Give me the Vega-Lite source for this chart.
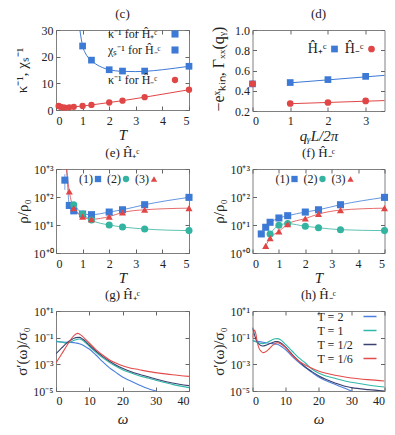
{
"$schema": "https://vega.github.io/schema/vega-lite/v6.json",
"background": "white",
"padding": {"left": 13, "top": 7, "right": 4, "bottom": 2},
"config": {
  "font": "Liberation Serif",
  "view": {"stroke": "#808080", "strokeWidth": 1},
  "axis": {"domain": false, "grid": false, "ticks": true, "tickSize": -4, "tickColor": "#666", "labelPadding": 8, "labelFont": "Liberation Serif", "labelFontSize": 12, "labelColor": "#222", "titleFont": "Liberation Serif", "titleFontSize": 15, "titleFontWeight": "normal", "titleColor": "#222", "titlePadding": 3},
  "axisX": {"labelPadding": 9, "titlePadding": 1},
  "axisY": {"labelPadding": 7},
  "title": {"font": "Liberation Serif", "fontSize": 13, "fontWeight": "normal", "color": "#222", "offset": 3},
  "legend": {"labelFont": "Liberation Serif", "labelFontSize": 12, "labelColor": "#222", "padding": 0, "offset": 0, "symbolStrokeWidth": 0}
},
"datasets": {
  "c_pts": [
    {"T": 1, "v": 24.0, "s": "κ⁻¹ for Ĥ₊ᶜ"}, {"T": 1.333, "v": 18.7, "s": "κ⁻¹ for Ĥ₊ᶜ"}, {"T": 2, "v": 15.1, "s": "κ⁻¹ for Ĥ₊ᶜ"}, {"T": 2.5, "v": 14.6, "s": "κ⁻¹ for Ĥ₊ᶜ"}, {"T": 3.333, "v": 14.6, "s": "κ⁻¹ for Ĥ₊ᶜ"}, {"T": 5, "v": 16.4, "s": "κ⁻¹ for Ĥ₊ᶜ"},
    {"T": 0.1, "v": 1.5, "s": "κ⁻¹ for Ĥ₋ᶜ"}, {"T": 0.167, "v": 1.2, "s": "κ⁻¹ for Ĥ₋ᶜ"}, {"T": 0.25, "v": 1.0, "s": "κ⁻¹ for Ĥ₋ᶜ"}, {"T": 0.333, "v": 0.9, "s": "κ⁻¹ for Ĥ₋ᶜ"}, {"T": 0.5, "v": 1.0, "s": "κ⁻¹ for Ĥ₋ᶜ"}, {"T": 0.667, "v": 1.2, "s": "κ⁻¹ for Ĥ₋ᶜ"}, {"T": 1, "v": 1.5, "s": "κ⁻¹ for Ĥ₋ᶜ"}, {"T": 1.333, "v": 1.9, "s": "κ⁻¹ for Ĥ₋ᶜ"}, {"T": 2, "v": 2.8, "s": "κ⁻¹ for Ĥ₋ᶜ"}, {"T": 2.5, "v": 3.5, "s": "κ⁻¹ for Ĥ₋ᶜ"}, {"T": 3.333, "v": 4.8, "s": "κ⁻¹ for Ĥ₋ᶜ"}, {"T": 5, "v": 7.6, "s": "κ⁻¹ for Ĥ₋ᶜ"}
  ],
  "c_line": [
    {"T": 0.89, "v": 30.5}, {"T": 0.95, "v": 26.6}, {"T": 1, "v": 24.0}, {"T": 1.1, "v": 21.4}, {"T": 1.2, "v": 19.8}, {"T": 1.333, "v": 18.6}, {"T": 1.5, "v": 17.2}, {"T": 1.75, "v": 15.9}, {"T": 2, "v": 15.1}, {"T": 2.5, "v": 14.5}, {"T": 3, "v": 14.4}, {"T": 3.333, "v": 14.5}, {"T": 4, "v": 15.1}, {"T": 5, "v": 16.4}
  ],
  "d_pts": [
    {"q": 0, "v": 0.468, "s": "Ĥ₊ᶜ"}, {"q": 1, "v": 0.481, "s": "Ĥ₊ᶜ"}, {"q": 2, "v": 0.51, "s": "Ĥ₊ᶜ"}, {"q": 3, "v": 0.542, "s": "Ĥ₊ᶜ"},
    {"q": 0, "v": 0.468, "s": "Ĥ₋ᶜ"}, {"q": 1, "v": 0.274, "s": "Ĥ₋ᶜ"}, {"q": 2, "v": 0.284, "s": "Ĥ₋ᶜ"}, {"q": 3, "v": 0.30, "s": "Ĥ₋ᶜ"}
  ],
  "d_line": [
    {"q": 1, "v": 0.478, "s": "b"}, {"q": 3.5, "v": 0.552, "s": "b"}, {"q": 1, "v": 0.272, "s": "r"}, {"q": 3.5, "v": 0.303, "s": "r"}
  ],
  "e_pts": [
    {"T": 0.333, "v": 400, "lo": 180, "hi": 650, "s": "(1)"}, {"T": 0.5, "v": 50, "s": "(1)"}, {"T": 0.667, "v": 32, "s": "(1)"}, {"T": 1, "v": 24.6, "s": "(1)"}, {"T": 1.333, "v": 23.4, "s": "(1)"}, {"T": 2, "v": 29, "s": "(1)"}, {"T": 2.5, "v": 35, "s": "(1)"}, {"T": 3.333, "v": 53, "s": "(1)"}, {"T": 5, "v": 97, "s": "(1)"},
    {"T": 0.667, "v": 53, "s": "(2)"}, {"T": 1, "v": 24.6, "s": "(2)"}, {"T": 1.333, "v": 15, "s": "(2)"}, {"T": 2, "v": 10, "s": "(2)"}, {"T": 2.5, "v": 8.5, "s": "(2)"}, {"T": 3.333, "v": 7.2, "s": "(2)"}, {"T": 5, "v": 6.3, "s": "(2)"},
    {"T": 0.5, "v": 158, "s": "(3)"}, {"T": 0.667, "v": 40, "s": "(3)"}, {"T": 1, "v": 20, "s": "(3)"}, {"T": 1.333, "v": 16, "s": "(3)"}, {"T": 2, "v": 20, "s": "(3)"}, {"T": 2.5, "v": 28, "s": "(3)"}, {"T": 3.333, "v": 35, "s": "(3)"}, {"T": 5, "v": 40, "s": "(3)"}
  ],
  "e_line": [
    {"T": 0.41, "v": 1000, "s": "(1)"}, {"T": 0.5, "v": 50, "s": "(1)"}, {"T": 0.667, "v": 32, "s": "(1)"}, {"T": 1, "v": 24.6, "s": "(1)"}, {"T": 1.333, "v": 23.4, "s": "(1)"}, {"T": 2, "v": 29, "s": "(1)"}, {"T": 2.5, "v": 35, "s": "(1)"}, {"T": 3.333, "v": 53, "s": "(1)"}, {"T": 5, "v": 97, "s": "(1)"},
    {"T": 0.667, "v": 53, "s": "(2)"}, {"T": 1, "v": 24.6, "s": "(2)"}, {"T": 1.333, "v": 15, "s": "(2)"}, {"T": 2, "v": 10, "s": "(2)"}, {"T": 2.5, "v": 8.5, "s": "(2)"}, {"T": 3.333, "v": 7.2, "s": "(2)"}, {"T": 5, "v": 6.3, "s": "(2)"},
    {"T": 0.39, "v": 1000, "s": "(3)"}, {"T": 0.5, "v": 158, "s": "(3)"}, {"T": 0.667, "v": 40, "s": "(3)"}, {"T": 1, "v": 20, "s": "(3)"}, {"T": 1.333, "v": 16, "s": "(3)"}, {"T": 2, "v": 20, "s": "(3)"}, {"T": 2.5, "v": 28, "s": "(3)"}, {"T": 3.333, "v": 35, "s": "(3)"}, {"T": 5, "v": 40, "s": "(3)"}
  ],
  "f_pts": [
    {"T": 0.333, "v": 4.8, "s": "(1)"}, {"T": 0.5, "v": 8.3, "s": "(1)"}, {"T": 0.667, "v": 12.5, "s": "(1)"}, {"T": 1, "v": 17.8, "s": "(1)"}, {"T": 1.333, "v": 21.5, "s": "(1)"}, {"T": 2, "v": 29, "s": "(1)"}, {"T": 2.5, "v": 35, "s": "(1)"}, {"T": 3.333, "v": 53, "s": "(1)"}, {"T": 5, "v": 97, "s": "(1)"},
    {"T": 0.667, "v": 4.8, "s": "(2)"}, {"T": 1, "v": 9.8, "s": "(2)"}, {"T": 1.333, "v": 11.2, "s": "(2)"}, {"T": 2, "v": 9, "s": "(2)"}, {"T": 2.5, "v": 8, "s": "(2)"}, {"T": 3.333, "v": 6.8, "s": "(2)"}, {"T": 5, "v": 6.3, "s": "(2)"},
    {"T": 0.5, "v": 1.8, "s": "(3)"}, {"T": 0.667, "v": 3.4, "s": "(3)"}, {"T": 1, "v": 5.9, "s": "(3)"}, {"T": 1.333, "v": 10.8, "s": "(3)"}, {"T": 2, "v": 17, "s": "(3)"}, {"T": 2.5, "v": 24.6, "s": "(3)"}, {"T": 3.333, "v": 34, "s": "(3)"}, {"T": 5, "v": 40, "s": "(3)"}
  ],
  "g": [
    {"w": 0, "v": 0.0501, "s": "T = 2"}, {"w": 2, "v": 0.0479, "s": "T = 2"}, {"w": 4, "v": 0.0447, "s": "T = 2"}, {"w": 6, "v": 0.0398, "s": "T = 2"}, {"w": 7, "v": 0.0355, "s": "T = 2"}, {"w": 8, "v": 0.0282, "s": "T = 2"}, {"w": 9, "v": 0.01995, "s": "T = 2"}, {"w": 10, "v": 0.01413, "s": "T = 2"}, {"w": 12, "v": 0.00501, "s": "T = 2"}, {"w": 14, "v": 0.001585, "s": "T = 2"}, {"w": 16, "v": 0.000562, "s": "T = 2"}, {"w": 18, "v": 0.000251, "s": "T = 2"}, {"w": 20, "v": 0.000112, "s": "T = 2"}, {"w": 22, "v": 0.0000631, "s": "T = 2"}, {"w": 25, "v": 0.0000282, "s": "T = 2"}, {"w": 28, "v": 0.0000141, "s": "T = 2"}, {"w": 30, "v": 0.00001, "s": "T = 2"}, {"w": 32, "v": 0.00000631, "s": "T = 2"},
    {"w": 0, "v": 0.0562, "s": "T = 1"}, {"w": 1, "v": 0.0501, "s": "T = 1"}, {"w": 2, "v": 0.0447, "s": "T = 1"}, {"w": 3, "v": 0.0398, "s": "T = 1"}, {"w": 4, "v": 0.0447, "s": "T = 1"}, {"w": 5, "v": 0.0562, "s": "T = 1"}, {"w": 6, "v": 0.0708, "s": "T = 1"}, {"w": 7, "v": 0.0794, "s": "T = 1"}, {"w": 8, "v": 0.0631, "s": "T = 1"}, {"w": 9, "v": 0.0398, "s": "T = 1"}, {"w": 10, "v": 0.0224, "s": "T = 1"}, {"w": 12, "v": 0.00794, "s": "T = 1"}, {"w": 14, "v": 0.00316, "s": "T = 1"}, {"w": 16, "v": 0.00141, "s": "T = 1"}, {"w": 18, "v": 0.000708, "s": "T = 1"}, {"w": 20, "v": 0.000398, "s": "T = 1"}, {"w": 22, "v": 0.000251, "s": "T = 1"}, {"w": 25, "v": 0.000141, "s": "T = 1"}, {"w": 28, "v": 0.0000891, "s": "T = 1"}, {"w": 30, "v": 0.0000631, "s": "T = 1"}, {"w": 35, "v": 0.0000316, "s": "T = 1"}, {"w": 40, "v": 0.0000178, "s": "T = 1"},
    {"w": 0, "v": 0.00631, "s": "T = 1/2"}, {"w": 1, "v": 0.0112, "s": "T = 1/2"}, {"w": 2, "v": 0.01995, "s": "T = 1/2"}, {"w": 3, "v": 0.0355, "s": "T = 1/2"}, {"w": 4, "v": 0.0562, "s": "T = 1/2"}, {"w": 5, "v": 0.0794, "s": "T = 1/2"}, {"w": 6, "v": 0.1, "s": "T = 1/2"}, {"w": 7, "v": 0.105, "s": "T = 1/2"}, {"w": 8, "v": 0.0794, "s": "T = 1/2"}, {"w": 9, "v": 0.0501, "s": "T = 1/2"}, {"w": 10, "v": 0.0282, "s": "T = 1/2"}, {"w": 12, "v": 0.01, "s": "T = 1/2"}, {"w": 14, "v": 0.00398, "s": "T = 1/2"}, {"w": 16, "v": 0.00178, "s": "T = 1/2"}, {"w": 18, "v": 0.000891, "s": "T = 1/2"}, {"w": 20, "v": 0.000501, "s": "T = 1/2"}, {"w": 22, "v": 0.000316, "s": "T = 1/2"}, {"w": 25, "v": 0.000178, "s": "T = 1/2"}, {"w": 28, "v": 0.000112, "s": "T = 1/2"}, {"w": 30, "v": 0.0000794, "s": "T = 1/2"}, {"w": 35, "v": 0.0000398, "s": "T = 1/2"}, {"w": 40, "v": 0.0000251, "s": "T = 1/2"},
    {"w": 0, "v": 0.00126, "s": "T = 1/6"}, {"w": 0.5, "v": 0.002, "s": "T = 1/6"}, {"w": 1, "v": 0.00316, "s": "T = 1/6"}, {"w": 2, "v": 0.00794, "s": "T = 1/6"}, {"w": 3, "v": 0.01995, "s": "T = 1/6"}, {"w": 4, "v": 0.0501, "s": "T = 1/6"}, {"w": 5, "v": 0.112, "s": "T = 1/6"}, {"w": 6, "v": 0.191, "s": "T = 1/6"}, {"w": 6.5, "v": 0.209, "s": "T = 1/6"}, {"w": 7, "v": 0.191, "s": "T = 1/6"}, {"w": 8, "v": 0.126, "s": "T = 1/6"}, {"w": 9, "v": 0.0708, "s": "T = 1/6"}, {"w": 10, "v": 0.0398, "s": "T = 1/6"}, {"w": 12, "v": 0.0126, "s": "T = 1/6"}, {"w": 14, "v": 0.00501, "s": "T = 1/6"}, {"w": 16, "v": 0.00224, "s": "T = 1/6"}, {"w": 18, "v": 0.00126, "s": "T = 1/6"}, {"w": 20, "v": 0.000794, "s": "T = 1/6"}, {"w": 22, "v": 0.000562, "s": "T = 1/6"}, {"w": 25, "v": 0.000398, "s": "T = 1/6"}, {"w": 28, "v": 0.000282, "s": "T = 1/6"}, {"w": 30, "v": 0.00024, "s": "T = 1/6"}, {"w": 35, "v": 0.000166, "s": "T = 1/6"}, {"w": 40, "v": 0.000126, "s": "T = 1/6"}
  ],
  "h": [
    {"w": 0, "v": 0.0562, "s": "T = 2"}, {"w": 2, "v": 0.0501, "s": "T = 2"}, {"w": 4, "v": 0.0417, "s": "T = 2"}, {"w": 6, "v": 0.0355, "s": "T = 2"}, {"w": 7.5, "v": 0.0316, "s": "T = 2"}, {"w": 9, "v": 0.01995, "s": "T = 2"}, {"w": 10, "v": 0.0126, "s": "T = 2"}, {"w": 12, "v": 0.00398, "s": "T = 2"}, {"w": 14, "v": 0.00141, "s": "T = 2"}, {"w": 16, "v": 0.000562, "s": "T = 2"}, {"w": 18, "v": 0.000251, "s": "T = 2"}, {"w": 20, "v": 0.000112, "s": "T = 2"}, {"w": 22, "v": 0.0000631, "s": "T = 2"}, {"w": 25, "v": 0.0000316, "s": "T = 2"}, {"w": 28, "v": 0.0000158, "s": "T = 2"}, {"w": 30, "v": 0.00001, "s": "T = 2"}, {"w": 32, "v": 0.00000631, "s": "T = 2"},
    {"w": 0, "v": 0.0631, "s": "T = 1"}, {"w": 1, "v": 0.0501, "s": "T = 1"}, {"w": 2, "v": 0.0398, "s": "T = 1"}, {"w": 3, "v": 0.0355, "s": "T = 1"}, {"w": 4, "v": 0.0398, "s": "T = 1"}, {"w": 5, "v": 0.0525, "s": "T = 1"}, {"w": 6, "v": 0.0708, "s": "T = 1"}, {"w": 7, "v": 0.0832, "s": "T = 1"}, {"w": 7.5, "v": 0.0851, "s": "T = 1"}, {"w": 8.5, "v": 0.0708, "s": "T = 1"}, {"w": 10, "v": 0.0316, "s": "T = 1"}, {"w": 12, "v": 0.01, "s": "T = 1"}, {"w": 14, "v": 0.00316, "s": "T = 1"}, {"w": 16, "v": 0.00126, "s": "T = 1"}, {"w": 18, "v": 0.000447, "s": "T = 1"}, {"w": 20, "v": 0.000224, "s": "T = 1"}, {"w": 22, "v": 0.000141, "s": "T = 1"}, {"w": 25, "v": 0.0000891, "s": "T = 1"}, {"w": 28, "v": 0.0000562, "s": "T = 1"}, {"w": 30, "v": 0.0000447, "s": "T = 1"}, {"w": 35, "v": 0.0000282, "s": "T = 1"}, {"w": 40, "v": 0.00002, "s": "T = 1"},
    {"w": 0, "v": 0.562, "s": "T = 1/2"}, {"w": 0.5, "v": 0.2, "s": "T = 1/2"}, {"w": 1, "v": 0.0794, "s": "T = 1/2"}, {"w": 1.5, "v": 0.0447, "s": "T = 1/2"}, {"w": 2, "v": 0.0316, "s": "T = 1/2"}, {"w": 3, "v": 0.024, "s": "T = 1/2"}, {"w": 4, "v": 0.0263, "s": "T = 1/2"}, {"w": 5, "v": 0.0331, "s": "T = 1/2"}, {"w": 6, "v": 0.0417, "s": "T = 1/2"}, {"w": 7, "v": 0.0501, "s": "T = 1/2"}, {"w": 7.5, "v": 0.0501, "s": "T = 1/2"}, {"w": 8.5, "v": 0.0417, "s": "T = 1/2"}, {"w": 10, "v": 0.01995, "s": "T = 1/2"}, {"w": 12, "v": 0.00562, "s": "T = 1/2"}, {"w": 14, "v": 0.00178, "s": "T = 1/2"}, {"w": 16, "v": 0.000631, "s": "T = 1/2"}, {"w": 18, "v": 0.000282, "s": "T = 1/2"}, {"w": 20, "v": 0.000141, "s": "T = 1/2"}, {"w": 22, "v": 0.0000794, "s": "T = 1/2"}, {"w": 25, "v": 0.0000398, "s": "T = 1/2"}, {"w": 28, "v": 0.0000224, "s": "T = 1/2"}, {"w": 30, "v": 0.0000178, "s": "T = 1/2"}, {"w": 35, "v": 0.0000126, "s": "T = 1/2"}, {"w": 40, "v": 0.00001, "s": "T = 1/2"},
    {"w": 0, "v": 0.1, "s": "T = 1/6"}, {"w": 0.3, "v": 0.251, "s": "T = 1/6"}, {"w": 0.6, "v": 0.372, "s": "T = 1/6"}, {"w": 1, "v": 0.2, "s": "T = 1/6"}, {"w": 1.5, "v": 0.0398, "s": "T = 1/6"}, {"w": 2, "v": 0.0158, "s": "T = 1/6"}, {"w": 2.5, "v": 0.01, "s": "T = 1/6"}, {"w": 3.2, "v": 0.00759, "s": "T = 1/6"}, {"w": 4, "v": 0.00891, "s": "T = 1/6"}, {"w": 5, "v": 0.0141, "s": "T = 1/6"}, {"w": 6, "v": 0.0251, "s": "T = 1/6"}, {"w": 7, "v": 0.038, "s": "T = 1/6"}, {"w": 7.5, "v": 0.0417, "s": "T = 1/6"}, {"w": 8.5, "v": 0.0355, "s": "T = 1/6"}, {"w": 10, "v": 0.0178, "s": "T = 1/6"}, {"w": 12, "v": 0.00501, "s": "T = 1/6"}, {"w": 14, "v": 0.00178, "s": "T = 1/6"}, {"w": 16, "v": 0.000891, "s": "T = 1/6"}, {"w": 18, "v": 0.000501, "s": "T = 1/6"}, {"w": 20, "v": 0.000316, "s": "T = 1/6"}, {"w": 22, "v": 0.000224, "s": "T = 1/6"}, {"w": 25, "v": 0.000151, "s": "T = 1/6"}, {"w": 28, "v": 0.000112, "s": "T = 1/6"}, {"w": 30, "v": 0.0000955, "s": "T = 1/6"}, {"w": 35, "v": 0.0000708, "s": "T = 1/6"}, {"w": 40, "v": 0.0000562, "s": "T = 1/6"}
  ]
},
"columns": 2,
"bounds": "flush",
"spacing": {"row": 58, "column": 63.5},
"resolve": {"scale": {"x": "independent", "y": "independent", "color": "independent", "shape": "independent", "fill": "independent"}, "legend": {"color": "independent", "shape": "independent", "fill": "independent"}},
"concat": [
  {
    "width": 133, "height": 80, "title": "(c)",
    "resolve": {"axis": {"x": "independent", "y": "independent"}},
    "layer": [
      {"data": {"name": "c_line"}, "mark": {"type": "line", "color": "#3d7ad6", "strokeWidth": 1, "clip": true, "interpolate": "monotone"},
       "encoding": {"x": {"field": "T", "type": "quantitative", "scale": {"domain": [0, 5], "nice": false}, "axis": {"values": [0, 1, 2, 3, 4, 5], "title": "T", "titleFontStyle": "italic"}},
                    "y": {"field": "v", "type": "quantitative", "scale": {"domain": [0, 30], "nice": false}, "axis": {"values": [0, 10, 20, 30], "title": "κ⁻¹, χₛ⁻¹", "titlePadding": 12}}}},
      {"data": {"name": "c_pts"}, "transform": [{"filter": "datum.s == 'κ⁻¹ for Ĥ₋ᶜ'"}], "mark": {"type": "line", "color": "#e04646", "strokeWidth": 1},
       "encoding": {"x": {"field": "T", "type": "quantitative", "axis": null}, "y": {"field": "v", "type": "quantitative", "axis": null}}},
      {"data": {"name": "c_pts"}, "transform": [{"filter": "datum.s != 'κ⁻¹ for Ĥ₋ᶜ'"}], "mark": {"type": "point", "filled": true, "opacity": 1, "size": 45, "shape": "square"},
       "encoding": {"x": {"field": "T", "type": "quantitative", "axis": {"orient": "top", "labels": false, "title": null, "values": [0, 1, 2, 3, 4, 5]}},
                    "y": {"field": "v", "type": "quantitative", "axis": {"orient": "right", "labels": false, "title": null, "values": [0, 10, 20, 30]}},
                    "color": {"field": "s", "type": "nominal", "scale": {"domain": ["κ⁻¹ for Ĥ₊ᶜ", "χₛ⁻¹ for Ĥ₋ᶜ"], "range": ["#3d7ad6", "#3d7ad6"]},
                              "legend": {"title": null, "orient": "none", "legendX": 113, "legendY": -2, "direction": "vertical", "labelOffset": -73, "labelAlign": "left", "symbolType": "square", "symbolSize": 50, "rowPadding": 4}}}},
      {"data": {"name": "c_pts"}, "transform": [{"filter": "datum.s == 'κ⁻¹ for Ĥ₋ᶜ'"}], "mark": {"type": "point", "filled": true, "opacity": 1, "size": 40, "shape": "circle"},
       "encoding": {"x": {"field": "T", "type": "quantitative", "axis": null},
                    "y": {"field": "v", "type": "quantitative", "axis": null},
                    "fill": {"field": "s", "type": "nominal", "scale": {"domain": ["κ⁻¹ for Ĥ₋ᶜ"], "range": ["#e04646"]},
                              "legend": {"title": null, "orient": "none", "legendX": 113, "legendY": 44, "direction": "vertical", "labelOffset": -73, "labelAlign": "left", "symbolType": "circle", "symbolSize": 40}}}}
    ]
  },
  {
    "width": 132, "height": 81, "title": "(d)",
    "resolve": {"axis": {"x": "independent", "y": "independent"}},
    "layer": [
      {"data": {"name": "d_line"}, "transform": [{"filter": "datum.s == 'b'"}], "mark": {"type": "line", "color": "#3d7ad6", "strokeWidth": 1},
       "encoding": {"x": {"field": "q", "type": "quantitative", "scale": {"domain": [0, 3.5], "nice": false}, "axis": {"values": [0, 1, 2, 3], "title": "qᵧL/2π", "titleFontStyle": "italic", "labelPadding": 8, "titlePadding": 2}},
                    "y": {"field": "v", "type": "quantitative", "scale": {"domain": [0.2, 1.0], "nice": false, "zero": false}, "axis": {"values": [0.2, 0.4, 0.6, 0.8, 1.0], "format": ".1f", "title": "−eˣₖᵢₙ, Γₓₓ(qᵧ)", "titlePadding": 8, "titleAnchor": "start", "titleFontSize": 16}}}},
      {"data": {"name": "d_line"}, "transform": [{"filter": "datum.s == 'r'"}], "mark": {"type": "line", "color": "#e04646", "strokeWidth": 1},
       "encoding": {"x": {"field": "q", "type": "quantitative", "axis": null}, "y": {"field": "v", "type": "quantitative", "axis": null}}},
      {"data": {"name": "d_pts"}, "mark": {"type": "point", "filled": true, "opacity": 1, "size": 45},
       "encoding": {"x": {"field": "q", "type": "quantitative", "axis": {"orient": "top", "labels": false, "title": null, "values": [0, 1, 2, 3]}},
                    "y": {"field": "v", "type": "quantitative", "axis": {"orient": "right", "labels": false, "title": null, "values": [0.2, 0.4, 0.6, 0.8, 1.0]}},
                    "color": {"field": "s", "type": "nominal", "scale": {"domain": ["Ĥ₊ᶜ", "Ĥ₋ᶜ"], "range": ["#3d7ad6", "#e04646"]},
                              "legend": {"title": null, "orient": "none", "legendX": 75, "legendY": 12, "direction": "horizontal", "columns": 2, "labelOffset": -15, "labelAlign": "right", "labelFontSize": 14, "symbolSize": 45, "columnPadding": 6}},
                    "shape": {"field": "s", "type": "nominal", "scale": {"domain": ["Ĥ₊ᶜ", "Ĥ₋ᶜ"], "range": ["square", "circle"]},
                              "legend": {"title": null, "orient": "none", "legendX": 75, "legendY": 12, "direction": "horizontal", "columns": 2, "labelOffset": -15, "labelAlign": "right", "labelFontSize": 14, "symbolSize": 45, "columnPadding": 6}}}}
    ]
  },
  {
    "width": 133, "height": 84, "title": "(e) Ĥ₊ᶜ",
    "resolve": {"axis": {"x": "independent", "y": "independent"}},
    "layer": [
      {"data": {"name": "e_line"}, "transform": [{"filter": "datum.s == '(1)'"}], "mark": {"type": "line", "color": "#3d7ad6", "strokeWidth": 0.8, "clip": true, "interpolate": "monotone"},
       "encoding": {"x": {"field": "T", "type": "quantitative", "scale": {"domain": [0, 5], "nice": false}, "axis": {"values": [0, 1, 2, 3, 4, 5], "title": "T", "titleFontStyle": "italic"}},
                    "y": {"field": "v", "type": "quantitative", "scale": {"type": "log", "domain": [1, 1000], "nice": false}, "axis": {"values": [1, 10, 100, 1000], "title": "ρ/ρ₀", "labelExpr": "'10' + (round(log(datum.value)/LN10) < 0 ? '⁻' : '⁺') + ['⁰','¹','²','³','⁴','⁵'][abs(round(log(datum.value)/LN10))]"}}}},
      {"data": {"name": "e_line"}, "transform": [{"filter": "datum.s == '(2)'"}], "mark": {"type": "line", "color": "#33b3a0", "strokeWidth": 0.8, "clip": true, "interpolate": "monotone"},
       "encoding": {"x": {"field": "T", "type": "quantitative", "axis": null}, "y": {"field": "v", "type": "quantitative", "axis": null}}},
      {"data": {"name": "e_line"}, "transform": [{"filter": "datum.s == '(3)'"}], "mark": {"type": "line", "color": "#e04646", "strokeWidth": 0.8, "clip": true, "interpolate": "monotone"},
       "encoding": {"x": {"field": "T", "type": "quantitative", "axis": null}, "y": {"field": "v", "type": "quantitative", "axis": null}}},
      {"data": {"name": "e_pts"}, "transform": [{"filter": "isValid(datum.lo)"}], "mark": {"type": "rule", "color": "#7ea4e6", "strokeWidth": 1},
       "encoding": {"x": {"field": "T", "type": "quantitative", "axis": null}, "y": {"field": "lo", "type": "quantitative", "axis": null}, "y2": {"field": "hi"}}},
      {"data": {"name": "e_pts"}, "mark": {"type": "point", "filled": true, "opacity": 1, "size": 50},
       "encoding": {"x": {"field": "T", "type": "quantitative", "axis": {"orient": "top", "labels": false, "title": null, "values": [0, 1, 2, 3, 4, 5]}},
                    "y": {"field": "v", "type": "quantitative", "axis": {"orient": "right", "labels": false, "title": null, "values": [1, 10, 100, 1000]}},
                    "color": {"field": "s", "type": "nominal", "scale": {"domain": ["(1)", "(2)", "(3)"], "range": ["#3d7ad6", "#33b3a0", "#e04646"]},
                              "legend": {"title": null, "orient": "none", "legendX": 36, "legendY": 4, "direction": "horizontal", "columns": 3, "labelOffset": -11, "labelAlign": "right", "symbolSize": 40, "columnPadding": 5}},
                    "shape": {"field": "s", "type": "nominal", "scale": {"domain": ["(1)", "(2)", "(3)"], "range": ["square", "circle", "triangle-up"]},
                              "legend": {"title": null, "orient": "none", "legendX": 36, "legendY": 4, "direction": "horizontal", "columns": 3, "labelOffset": -11, "labelAlign": "right", "symbolSize": 40, "columnPadding": 5}}}}
    ]
  },
  {
    "width": 132, "height": 84, "title": "(f) Ĥ₋ᶜ",
    "resolve": {"axis": {"x": "independent", "y": "independent"}},
    "layer": [
      {"data": {"name": "f_pts"}, "transform": [{"filter": "datum.s == '(1)' && datum.T > 0.6"}], "mark": {"type": "line", "color": "#3d7ad6", "strokeWidth": 0.8, "clip": true, "interpolate": "monotone"},
       "encoding": {"x": {"field": "T", "type": "quantitative", "scale": {"domain": [0, 5], "nice": false}, "axis": {"values": [0, 1, 2, 3, 4, 5], "title": "T", "titleFontStyle": "italic"}},
                    "y": {"field": "v", "type": "quantitative", "scale": {"type": "log", "domain": [1, 1000], "nice": false}, "axis": {"values": [1, 10, 100, 1000], "title": "ρ/ρ₀", "labelExpr": "'10' + (round(log(datum.value)/LN10) < 0 ? '⁻' : '⁺') + ['⁰','¹','²','³','⁴','⁵'][abs(round(log(datum.value)/LN10))]"}}}},
      {"data": {"name": "f_pts"}, "transform": [{"filter": "datum.s == '(2)'"}], "mark": {"type": "line", "color": "#33b3a0", "strokeWidth": 0.8, "clip": true, "interpolate": "monotone"},
       "encoding": {"x": {"field": "T", "type": "quantitative", "axis": null}, "y": {"field": "v", "type": "quantitative", "axis": null}}},
      {"data": {"name": "f_pts"}, "transform": [{"filter": "datum.s == '(3)'"}], "mark": {"type": "line", "color": "#e04646", "strokeWidth": 0.8, "clip": true, "interpolate": "monotone"},
       "encoding": {"x": {"field": "T", "type": "quantitative", "axis": null}, "y": {"field": "v", "type": "quantitative", "axis": null}}},
      {"data": {"name": "f_pts"}, "mark": {"type": "point", "filled": true, "opacity": 1, "size": 50},
       "encoding": {"x": {"field": "T", "type": "quantitative", "axis": {"orient": "top", "labels": false, "title": null, "values": [0, 1, 2, 3, 4, 5]}},
                    "y": {"field": "v", "type": "quantitative", "axis": {"orient": "right", "labels": false, "title": null, "values": [1, 10, 100, 1000]}},
                    "color": {"field": "s", "type": "nominal", "scale": {"domain": ["(1)", "(2)", "(3)"], "range": ["#3d7ad6", "#33b3a0", "#e04646"]},
                              "legend": {"title": null, "orient": "none", "legendX": 36, "legendY": 4, "direction": "horizontal", "columns": 3, "labelOffset": -11, "labelAlign": "right", "symbolSize": 40, "columnPadding": 5}},
                    "shape": {"field": "s", "type": "nominal", "scale": {"domain": ["(1)", "(2)", "(3)"], "range": ["square", "circle", "triangle-up"]},
                              "legend": {"title": null, "orient": "none", "legendX": 36, "legendY": 4, "direction": "horizontal", "columns": 3, "labelOffset": -11, "labelAlign": "right", "symbolSize": 40, "columnPadding": 5}}}}
    ]
  },
  {
    "width": 133, "height": 80, "title": "(g) Ĥ₊ᶜ",
    "resolve": {"axis": {"x": "independent", "y": "independent"}},
    "layer": [
      {"data": {"name": "g"}, "mark": {"type": "line", "strokeWidth": 1.1, "clip": true, "interpolate": "monotone"},
       "encoding": {"x": {"field": "w", "type": "quantitative", "scale": {"domain": [0, 40], "nice": false}, "axis": {"values": [0, 10, 20, 30, 40], "title": "ω", "titleFontStyle": "italic", "labelPadding": 8, "titlePadding": 5}},
                    "y": {"field": "v", "type": "quantitative", "scale": {"type": "log", "domain": [0.00001, 10], "nice": false}, "axis": {"values": [0.00001, 0.001, 0.1, 10], "title": "σ′(ω)/σ₀", "labelExpr": "'10' + (round(log(datum.value)/LN10) < 0 ? '⁻' : '⁺') + ['⁰','¹','²','³','⁴','⁵'][abs(round(log(datum.value)/LN10))]"}},
                    "color": {"field": "s", "type": "nominal", "scale": {"domain": ["T = 2", "T = 1", "T = 1/2", "T = 1/6"], "range": ["#4a7fdc", "#2fb8a8", "#3b4170", "#e34b4b"]}, "legend": null}}},
      {"data": {"name": "g"}, "mark": {"type": "line", "opacity": 0},
       "encoding": {"x": {"field": "w", "type": "quantitative", "axis": {"orient": "top", "labels": false, "title": null, "values": [0, 10, 20, 30, 40]}},
                    "y": {"field": "v", "type": "quantitative", "axis": {"orient": "right", "labels": false, "title": null, "values": [0.00001, 0.001, 0.1, 10]}}}}
    ]
  },
  {
    "width": 132, "height": 80, "title": "(h) Ĥ₋ᶜ",
    "resolve": {"axis": {"x": "independent", "y": "independent"}},
    "layer": [
      {"data": {"name": "h"}, "mark": {"type": "line", "strokeWidth": 1.1, "clip": true, "interpolate": "monotone"},
       "encoding": {"x": {"field": "w", "type": "quantitative", "scale": {"domain": [0, 40], "nice": false}, "axis": {"values": [0, 10, 20, 30, 40], "title": "ω", "titleFontStyle": "italic", "labelPadding": 8, "titlePadding": 5}},
                    "y": {"field": "v", "type": "quantitative", "scale": {"type": "log", "domain": [0.00001, 10], "nice": false}, "axis": {"values": [0.00001, 0.001, 0.1, 10], "title": "σ′(ω)/σ₀", "labelExpr": "'10' + (round(log(datum.value)/LN10) < 0 ? '⁻' : '⁺') + ['⁰','¹','²','³','⁴','⁵'][abs(round(log(datum.value)/LN10))]"}},
                    "color": {"field": "s", "type": "nominal", "scale": {"domain": ["T = 2", "T = 1", "T = 1/2", "T = 1/6"], "range": ["#4a7fdc", "#2fb8a8", "#3b4170", "#e34b4b"]},
                              "legend": {"title": null, "orient": "none", "legendX": 110, "legendY": -2, "direction": "vertical", "labelOffset": -60, "labelAlign": "left", "symbolType": "stroke", "symbolSize": 169, "symbolStrokeWidth": 1.5, "rowPadding": 0}}}},
      {"data": {"name": "h"}, "mark": {"type": "line", "opacity": 0},
       "encoding": {"x": {"field": "w", "type": "quantitative", "axis": {"orient": "top", "labels": false, "title": null, "values": [0, 10, 20, 30, 40]}},
                    "y": {"field": "v", "type": "quantitative", "axis": {"orient": "right", "labels": false, "title": null, "values": [0.00001, 0.001, 0.1, 10]}}}}
    ]
  }
]
}
